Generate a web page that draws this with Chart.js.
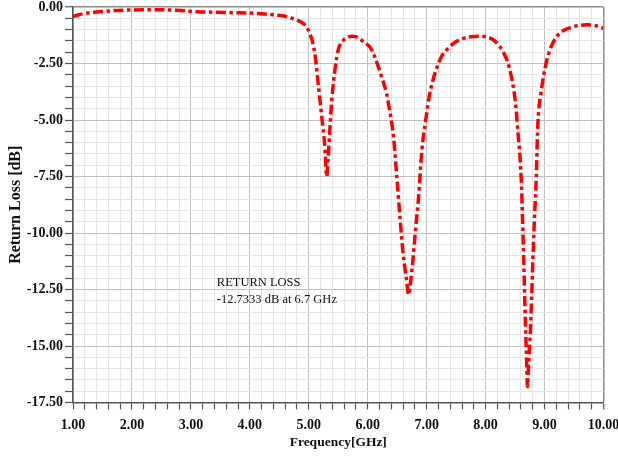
<!DOCTYPE html>
<html>
<head>
<meta charset="utf-8">
<title>Return Loss</title>
<script src="https://cdn.jsdelivr.net/npm/chart.js@4/dist/chart.umd.min.js"></script>
<style>
  html, body { margin: 0; padding: 0; background: #ffffff; }
  #wrap { width: 618px; height: 460px; position: relative; }
</style>
</head>
<body>
<div id="wrap"><canvas id="rl"></canvas></div>
<script>
// Swept frequency points (GHz) and the simulated S11 return loss (dB)
const freqGHz = [
  1.00, 1.10, 1.25, 1.45, 1.70, 2.00, 2.30, 2.60, 2.85, 3.10,
  3.40, 3.70, 4.00, 4.25, 4.45, 4.60, 4.72, 4.82, 4.90, 4.97,
  5.02, 5.06, 5.11, 5.16, 5.22, 5.27, 5.305, 5.33, 5.36, 5.39,
  5.45, 5.50, 5.59, 5.66, 5.73, 5.80, 5.87, 5.95, 6.04, 6.11,
  6.18, 6.25, 6.32, 6.36, 6.40, 6.44, 6.49, 6.55, 6.60, 6.66,
  6.695, 6.73, 6.77, 6.81, 6.86, 6.92, 6.99, 7.04, 7.10, 7.17,
  7.25, 7.34, 7.45, 7.57, 7.72, 7.88, 8.02, 8.13, 8.22, 8.30,
  8.37, 8.43, 8.48, 8.52, 8.55, 8.58, 8.61, 8.64, 8.67, 8.695,
  8.71, 8.725, 8.76, 8.78, 8.81, 8.835, 8.86, 8.88, 8.90, 8.94,
  8.98, 9.03, 9.09, 9.16, 9.25, 9.35, 9.47, 9.60, 9.72, 9.85,
  9.93, 10.00
];
const returnLossDb = [
  -0.42, -0.34, -0.27, -0.21, -0.16, -0.13, -0.12, -0.13, -0.16, -0.21,
  -0.23, -0.25, -0.27, -0.31, -0.36, -0.41, -0.50, -0.60, -0.72, -0.90,
  -1.20, -1.50, -2.20, -3.40, -4.85, -6.10, -7.50, -6.64, -5.30, -4.13,
  -2.65, -1.90, -1.46, -1.34, -1.29, -1.31, -1.42, -1.58, -1.78, -2.15,
  -2.65, -3.20, -3.83, -4.40, -5.00, -5.80, -7.40, -9.40, -10.90, -12.10,
  -12.73, -12.10, -11.10, -9.90, -8.50, -6.30, -4.90, -4.00, -3.30, -2.70,
  -2.20, -1.90, -1.62, -1.44, -1.33, -1.29, -1.33, -1.45, -1.68, -2.00,
  -2.40, -3.00, -3.70, -4.60, -5.60, -6.50, -8.00, -10.60, -13.50, -15.60,
  -16.80, -16.00, -14.30, -12.90, -10.60, -9.00, -7.50, -5.60, -4.60, -3.80,
  -3.10, -2.45, -1.90, -1.50, -1.18, -1.00, -0.88, -0.81, -0.79, -0.82,
  -0.88, -0.95
];

// Labelled (major) ticks; every other grid step is a minor division
const xMajorTicks = [1, 2, 3, 4, 5, 6, 7, 8, 9, 10];
const yMajorTicks = [0, -2.5, -5, -7.5, -10, -12.5, -15, -17.5];

// Marker note placed inside the plot
const markerNote = ['RETURN LOSS', '-12.7333 dB at 6.7 GHz'];
const markerAt = { x: 3.44, y: -12.2 };

const SERIF = '"Liberation Serif", "Times New Roman", serif';
const isMajor = (v, list) => list.some(m => Math.abs(m - v) < 1e-6);

const markerNotePlugin = {
  id: 'markerNote',
  afterDatasetsDraw(chart) {
    const { ctx, scales } = chart;
    const px = scales.x.getPixelForValue(markerAt.x);
    const py = scales.y.getPixelForValue(markerAt.y);
    ctx.save();
    ctx.font = '12.5px ' + SERIF;
    ctx.fillStyle = '#111111';
    ctx.textAlign = 'left';
    ctx.textBaseline = 'middle';
    markerNote.forEach((line, i) => ctx.fillText(line, px, py + i * 16.5));
    ctx.restore();
  }
};

const gridColor = (value, majors, edge) => {
  if (Math.abs(value - edge) < 1e-6) return '#8c8c8c';
  return isMajor(value, majors) ? '#c2c2c2' : '#e6e6e6';
};

new Chart(document.getElementById('rl'), {
  type: 'line',
  data: {
    datasets: [{
      label: 'S11',
      data: freqGHz.map((f, i) => ({ x: f, y: returnLossDb[i] })),
      borderColor: '#ff0000',
      borderWidth: 3.5,
      borderDash: [10, 3.5, 3.5, 3.5],
      borderCapStyle: 'butt',
      pointRadius: 0,
      fill: false,
      cubicInterpolationMode: 'monotone'
    }]
  },
  options: {
    responsive: true,
    maintainAspectRatio: false,
    animation: false,
    devicePixelRatio: 1,
    layout: { padding: { top: 7, right: 14.5, bottom: 0, left: 0 } },
    plugins: {
      legend: { display: false },
      tooltip: { enabled: false }
    },
    scales: {
      x: {
        type: 'linear',
        min: 1,
        max: 10,
        ticks: {
          stepSize: 0.2,
          autoSkip: false,
          maxRotation: 0,
          padding: 7,
          color: '#111111',
          font: { family: SERIF, size: 14, weight: 'bold' },
          callback: v => isMajor(v, xMajorTicks) ? v.toFixed(2) : ''
        },
        grid: {
          color: c => gridColor(c.tick ? c.tick.value : 0, xMajorTicks, 10),
          lineWidth: c => (c.tick && Math.abs(c.tick.value - 10) < 1e-6) ? 1.5 : 1,
          tickLength: 7,
          tickColor: '#555555',
          tickWidth: 1.2
        },
        border: { color: '#555555', width: 1.5 },
        title: {
          display: true,
          text: 'Frequency[GHz]',
          color: '#111111',
          font: { family: SERIF, size: 13.5, weight: 'bold' },
          padding: { top: 0, bottom: 9 }
        },
        afterFit: s => { s.height = 57.5; s.paddingLeft = 0; s.paddingRight = 0; }
      },
      y: {
        type: 'linear',
        min: -17.5,
        max: 0,
        ticks: {
          stepSize: 0.5,
          autoSkip: false,
          padding: 2,
          color: '#111111',
          font: { family: SERIF, size: 14, weight: 'bold' },
          callback: v => isMajor(v, yMajorTicks) ? v.toFixed(2) : ''
        },
        grid: {
          color: c => gridColor(c.tick ? c.tick.value : 0, yMajorTicks, 0),
          lineWidth: c => (c.tick && Math.abs(c.tick.value) < 1e-6) ? 1.5 : 1,
          tickLength: 8,
          tickColor: '#555555',
          tickWidth: 1.2
        },
        border: { color: '#555555', width: 1.5 },
        title: {
          display: true,
          text: 'Return Loss [dB]',
          color: '#111111',
          font: { family: SERIF, size: 16, weight: 'bold' },
          padding: { top: 6, bottom: 0 }
        },
        afterFit: s => { s.width = 73; s.paddingTop = 0; s.paddingBottom = 0; }
      }
    }
  },
  plugins: [markerNotePlugin]
});
</script>
</body>
</html>
